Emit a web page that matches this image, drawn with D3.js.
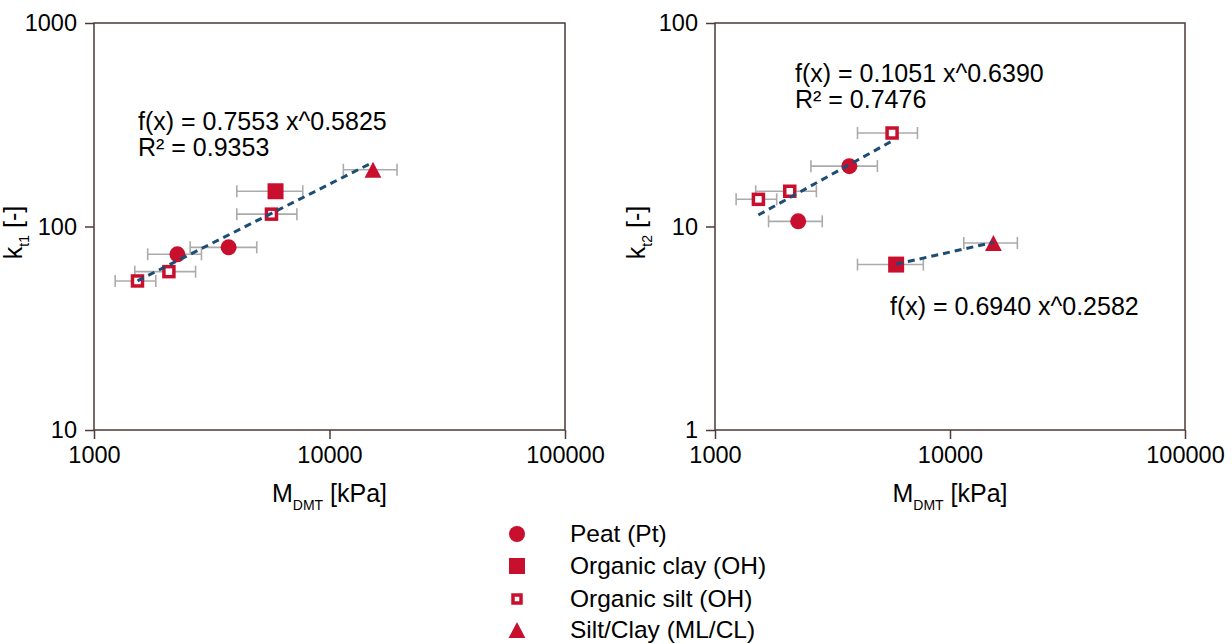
<!DOCTYPE html>
<html>
<head>
<meta charset="utf-8">
<script src="https://cdn.jsdelivr.net/npm/d3@7"></script>
<style>
  html, body { margin: 0; padding: 0; background: #fff; }
  svg { display: block; font-family: "Liberation Sans", Arial, sans-serif; }
</style>
</head>
<body>
<svg id="chart" width="1232" height="644"></svg>
<script>
// ---------------- DATA ----------------
const categories = ["Peat (Pt)", "Organic clay (OH)", "Organic silt (OH)", "Silt/Clay (ML/CL)"];
const pointMaterial = [0, 0, 1, 2, 2, 2, 3];
const mDMT     = [2260, 3730, 5900, 1530, 2080, 5670, 15300];
const mDMTLow  = [1690, 2560, 4040, 1230, 1490, 4040, 11450];
const mDMTHigh = [2860, 4910, 7700, 1830, 2700, 7270, 19350];
const kt1 = [73, 79, 149, 54, 60, 115, 190];
const kt2 = [10.6, 19.8, 6.5, 13.6, 14.9, 28.8, 8.3];

const xTicks = [1000, 10000, 100000];
const yTicksLeft = [10, 100, 1000];
const yTicksRight = [1, 10, 100];

// power-law fits shown on the chart: f(x) = a * x^b
const fitPanel = [0, 1, 1];
const fitA = [0.7553, 0.1051, 0.6940];
const fitB = [0.5825, 0.6390, 0.2582];
const fitXFrom = [1530, 1530, 5900];
const fitXTo = [15300, 5670, 15300];
const fitText = [
  ["f(x) = 0.7553 x^0.5825", "R² = 0.9353"],
  ["f(x) = 0.1051 x^0.6390", "R² = 0.7476"],
  ["f(x) = 0.6940 x^0.2582"]
];

// ---------------- LAYOUT ----------------
const svg = d3.select("#chart");
const RED = "#c8102e";
const AXIS = "#4e3a3a";
const ERR = "#ababab";
const FIT = "#1d4d75";

const panels = [
  { x0: 94, x1: 565, y0: 23, y1: 430, yDomain: [10, 1000], yTicks: yTicksLeft, yVals: kt1, sub: "t1", ylabX: 22 },
  { x0: 715, x1: 1185, y0: 23, y1: 430, yDomain: [1, 100], yTicks: yTicksRight, yVals: kt2, sub: "t2", ylabX: 645 }
];
const fitTextPos = [[138, 130], [795, 82], [890, 315]];

function markerPath(type, s) {
  if (type === 0) return d3.symbol(d3.symbolCircle, Math.PI * s * s / 4)();
  if (type === 3) { const w = s * 1.05, h = s; return `M0,${-h/2}L${w/2},${h/2}L${-w/2},${h/2}Z`; }
  return `M${-s/2},${-s/2}h${s}v${s}h${-s}Z`;
}
function drawMarker(g, type, cx, cy, size) {
  if (type === 2) {
    const s = size - 3.5;
    g.append("rect").attr("x", cx - s/2).attr("y", cy - s/2).attr("width", s).attr("height", s)
      .attr("fill", "#fff").attr("stroke", RED).attr("stroke-width", 3.5);
  } else {
    g.append("path").attr("d", markerPath(type, size)).attr("transform", `translate(${cx},${cy})`)
      .attr("fill", RED);
  }
}

panels.forEach((p, pi) => {
  const x = d3.scaleLog().domain([1000, 100000]).range([p.x0, p.x1]);
  const y = d3.scaleLog().domain(p.yDomain).range([p.y1, p.y0]);
  const g = svg.append("g");

  g.append("rect").attr("x", p.x0).attr("y", p.y0).attr("width", p.x1 - p.x0).attr("height", p.y1 - p.y0)
    .attr("fill", "none").attr("stroke", AXIS).attr("stroke-width", 1.5);

  const xa = g.append("g").attr("transform", `translate(0,${p.y1})`)
    .call(d3.axisBottom(x).tickValues(xTicks).tickFormat(d3.format("d")).tickSize(9).tickPadding(7));
  const ya = g.append("g").attr("transform", `translate(${p.x0},0)`)
    .call(d3.axisLeft(y).tickValues(p.yTicks).tickFormat(d3.format("d")).tickSize(9).tickPadding(8));
  [xa, ya].forEach(a => {
    a.select(".domain").remove();
    a.selectAll(".tick line").attr("stroke", AXIS).attr("stroke-width", 1.5);
    a.selectAll(".tick text").attr("fill", "#000").style("font-size", "23.5px")
      .style("font-family", '"Liberation Sans", Arial, sans-serif');
  });

  const xt = g.append("text").attr("x", (p.x0 + p.x1) / 2).attr("y", 502).attr("text-anchor", "middle")
    .style("font-size", "25px").attr("fill", "#000");
  xt.append("tspan").text("M");
  xt.append("tspan").attr("dy", 8).style("font-size", "14px").text("DMT");
  xt.append("tspan").attr("dy", -8).text(" [kPa]");

  const yt = g.append("text").attr("transform", `translate(${p.ylabX},${(p.y0 + p.y1) / 2 + 6}) rotate(-90)`)
    .attr("text-anchor", "middle").style("font-size", "25px").attr("fill", "#000");
  yt.append("tspan").text("k");
  yt.append("tspan").attr("dy", 7).style("font-size", "14px").text(p.sub);
  yt.append("tspan").attr("dy", -7).text(" [-]");

  const eb = g.append("g").attr("stroke", ERR).attr("stroke-width", 1.6).attr("fill", "none");
  mDMT.forEach((v, i) => {
    const cy = y(p.yVals[i]);
    eb.append("line").attr("x1", x(mDMTLow[i])).attr("x2", x(mDMTHigh[i])).attr("y1", cy).attr("y2", cy);
    [mDMTLow[i], mDMTHigh[i]].forEach(e => {
      eb.append("line").attr("x1", x(e)).attr("x2", x(e)).attr("y1", cy - 6).attr("y2", cy + 6);
    });
  });

  const mk = g.append("g");
  mDMT.forEach((v, i) => {
    const t = pointMaterial[i];
    drawMarker(mk, t, x(v), y(p.yVals[i]), t === 2 ? 13.5 : 16);
  });

  fitPanel.forEach((fp, fi) => {
    if (fp !== pi) return;
    const f = xv => fitA[fi] * Math.pow(xv, fitB[fi]);
    g.append("line")
      .attr("x1", x(fitXFrom[fi])).attr("y1", y(f(fitXFrom[fi])))
      .attr("x2", x(fitXTo[fi])).attr("y2", y(f(fitXTo[fi])))
      .attr("stroke", FIT).attr("stroke-width", 3).attr("stroke-dasharray", "7,5");
    const tx = g.append("text").attr("x", fitTextPos[fi][0]).attr("y", fitTextPos[fi][1])
      .style("font-size", "25px").attr("fill", "#000");
    fitText[fi].forEach((line, li) => {
      tx.append("tspan").attr("x", fitTextPos[fi][0]).attr("dy", li === 0 ? 0 : 26).text(line);
    });
  });
});

const legendRows = [534, 566, 599, 630];
const lg = svg.append("g");
categories.forEach((c, i) => {
  drawMarker(lg, i, 517, legendRows[i], i === 2 ? 11.5 : 16);
  lg.append("text").attr("x", 570).attr("y", legendRows[i] + 8).style("font-size", "24.5px")
    .attr("fill", "#000").text(c);
});
</script>
</body>
</html>
